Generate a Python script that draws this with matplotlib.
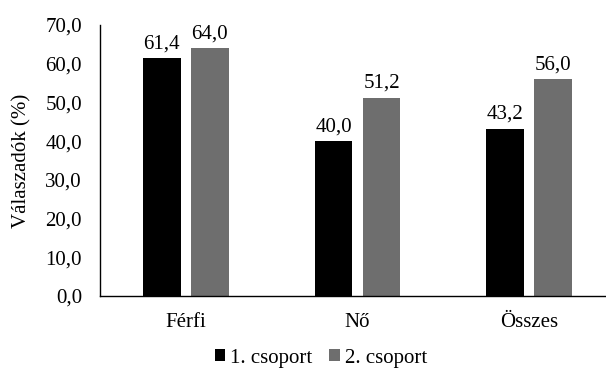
import matplotlib
matplotlib.use("Agg")
import matplotlib.pyplot as plt
import numpy as np

categories = ["Férfi", "Nő", "Összes"]
series_names = ["1. csoport", "2. csoport"]
group1 = [61.4, 40.0, 43.2]
group2 = [64.0, 51.2, 56.0]
y_ticks = [0, 10, 20, 30, 40, 50, 60, 70]

plt.rcParams["font.family"] = ["Liberation Serif", "DejaVu Serif"]
FS = 15

fig = plt.figure(figsize=(6.06, 3.70), dpi=100)
ax = fig.add_axes([100 / 606, 74 / 370, 506 / 606, 271 / 370])

x = np.arange(len(categories))
w = 0.22
off = 0.14
b1 = ax.bar(x - off, group1, w, color="#000000", label=series_names[0])
b2 = ax.bar(x + off, group2, w, color="#6e6e6e", label=series_names[1])

def fmt(v):
    return f"{v:.1f}".replace(".", ",")

for bars, vals in ((b1, group1), (b2, group2)):
    for rect, v in zip(bars, vals):
        ax.text(rect.get_x() + rect.get_width() / 2, v + 1.3, fmt(v),
                ha="center", va="bottom", fontsize=FS)

ax.set_xlim(-0.5, 2.447)
ax.set_ylim(0, 70)
ax.set_yticks(y_ticks)
ax.set_yticklabels([fmt(t) for t in y_ticks], fontsize=FS)
ax.set_xticks(x)
ax.set_xticklabels(categories, fontsize=FS)
ax.tick_params(axis="both", length=0)
ax.tick_params(axis="y", pad=13)
ax.tick_params(axis="x", pad=12)
ax.set_ylabel("Válaszadók (%)", fontsize=FS, labelpad=10)

for s in ("top", "right"):
    ax.spines[s].set_visible(False)
ax.spines["left"].set_linewidth(1.0)
ax.spines["bottom"].set_linewidth(1.0)

fig.legend(loc="center", bbox_to_anchor=(321 / 606, 1 - 358 / 370), ncol=2,
           frameon=False, fontsize=FS, handlelength=0.5, handleheight=0.5,
           handletextpad=0.25, columnspacing=0.8)

fig.savefig("out.png", dpi=100)
